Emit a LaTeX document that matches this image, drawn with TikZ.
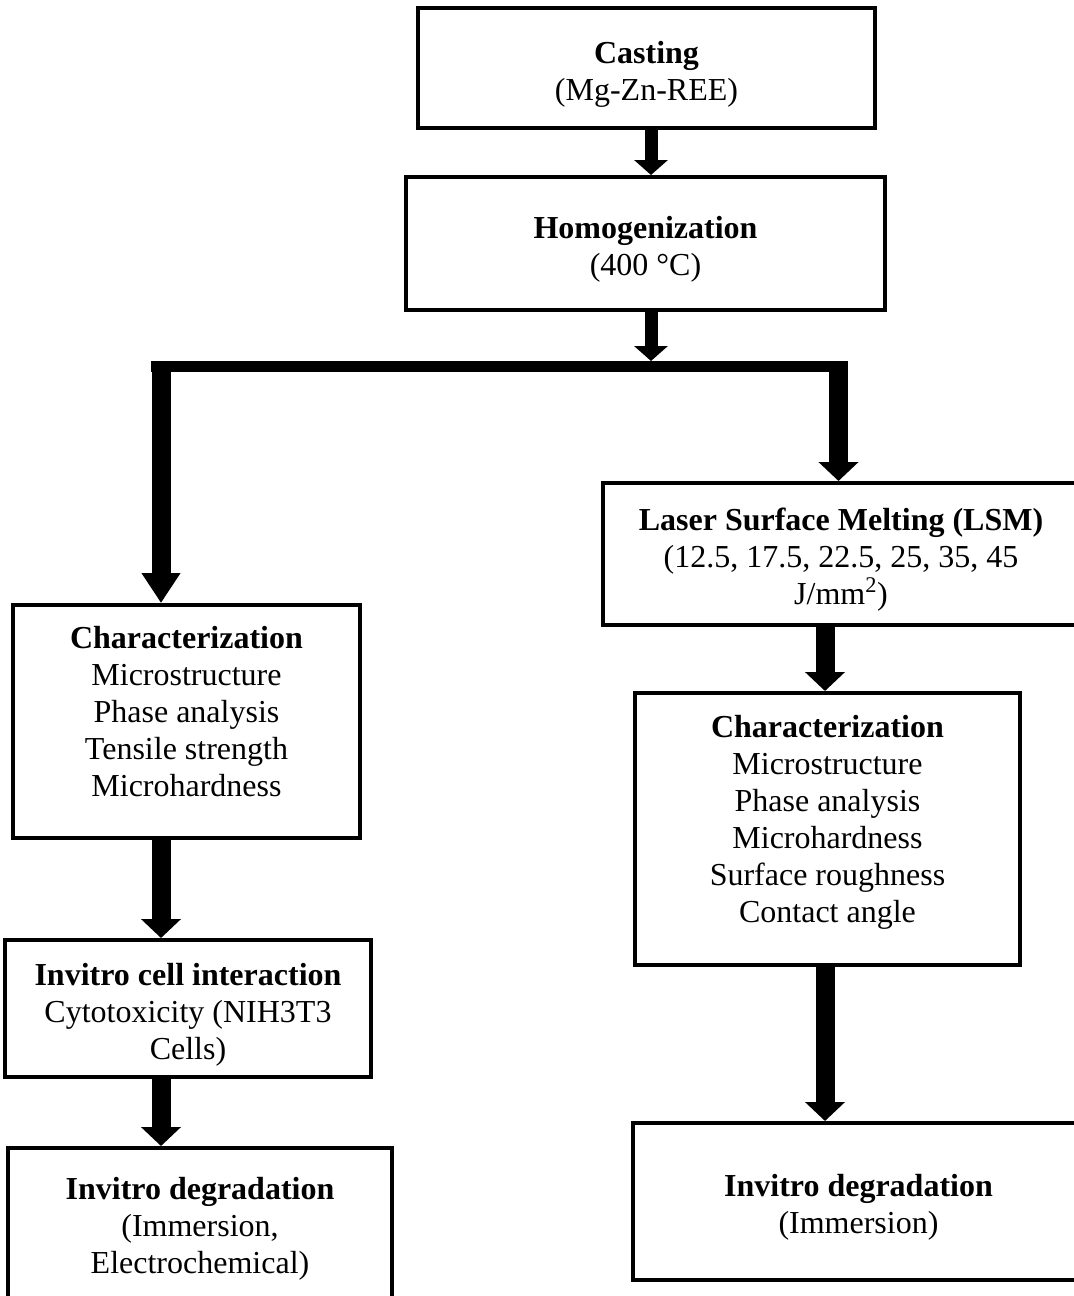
\documentclass[tikz,border=0pt]{standalone}
\usepackage{fontspec}
\setmainfont{Liberation Serif}
\usetikzlibrary{arrows.meta}
\newcommand{\padbottom}{\rule[-15pt]{0pt}{0pt}}
\newcommand{\padtop}{\rule{0pt}{26pt}}

\begin{document}
\begin{tikzpicture}[x=0.75pt, y=-0.75pt,
	box/.style={draw, line width=3pt, rectangle, align=center, inner sep=0pt, font=\fontsize{24}{27.75}\selectfont},
	slim/.style={line width=9.75pt, -{Triangle[length=11.25pt,width=24.75pt]}},
	flow/.style={line width=14.25pt, -{Triangle[length=14.25pt,width=29.25pt]}},
	longhead/.style={-{Triangle[length=22.5pt,width=27.75pt]}}]
	\useasboundingbox (0,0) rectangle (1074,1296);
	\clip (0,0) rectangle (1074,1296);

	% boxes
	\node[box, minimum width=342.75pt, minimum height=90pt] (casting) at (646.5,68) {\padtop\textbf{Casting}\\(Mg-Zn-REE)};
	\node[box, minimum width=359.25pt, minimum height=99.75pt] (homog) at (645.5,243.5) {\padtop\textbf{Homogenization}\\(400 °C)};
	\node[box, minimum width=357pt, minimum height=106.5pt] (lsm) at (841,554) {\padtop\textbf{Laser Surface Melting (LSM)}\\(12.5, 17.5, 22.5, 25, 35, 45\\J/mm\textsuperscript{2})};
	\node[box, minimum width=260.25pt, minimum height=174.75pt] (charL) at (186.5,721.5) {\textbf{Characterization}\\Microstructure\\Phase analysis\\Tensile strength\\Microhardness\padbottom};
	\node[box, minimum width=288.75pt, minimum height=204pt] (charR) at (827.5,829) {\textbf{Characterization}\\Microstructure\\Phase analysis\\Microhardness\\Surface roughness\\Contact angle\padbottom};
	\node[box, minimum width=274.5pt, minimum height=102.75pt] (cellL) at (188,1008.5) {\padtop\textbf{Invitro cell interaction}\\Cytotoxicity (NIH3T3\\Cells)};
	\node[box, minimum width=288pt, minimum height=112.5pt] (degL) at (200,1223) {\padtop\textbf{Invitro degradation}\\(Immersion,\\Electrochemical)};
	\node[box, minimum width=338.25pt, minimum height=117.75pt] (degR) at (858.5,1201.5) {\padtop\textbf{Invitro degradation}\\(Immersion)};

	% columns and the split bar
	\coordinate (midcol) at (651,0);
	\coordinate (bartop) at (0,361);
	\coordinate (barL) at (151,366.5);
	\coordinate (barR) at (848,366.5);
	\coordinate (leftcol) at (161,0);
	\coordinate (rightcol) at (838.5,0);
	\coordinate (lowcol) at (825,0);

	\draw[slim] (casting.south -| midcol) -- (homog.north -| midcol);
	\draw[slim] (homog.south -| midcol) -- (midcol |- bartop);
	\draw[line width=8.25pt] (barL) -- (barR);
	\draw[flow, longhead] (leftcol |- barL) -- (charL.north -| leftcol);
	\draw[flow] (rightcol |- barL) -- (lsm.north -| rightcol);
	\draw[flow] (lsm.south -| lowcol) -- (charR.north -| lowcol);
	\draw[flow] (charR.south -| lowcol) -- (degR.north -| lowcol);
	\draw[flow] (charL.south -| leftcol) -- (cellL.north -| leftcol);
	\draw[flow] (cellL.south -| leftcol) -- (degL.north -| leftcol);
\end{tikzpicture}
\end{document}
